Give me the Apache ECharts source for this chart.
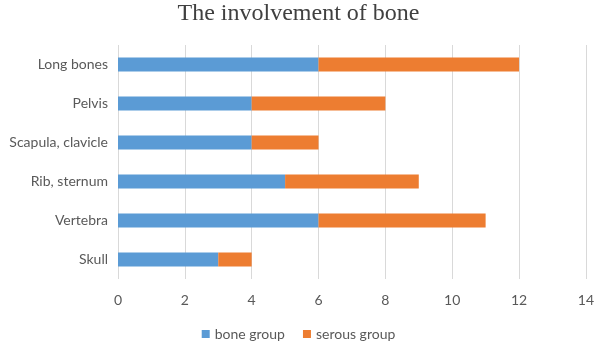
<!DOCTYPE html>
<html><head><meta charset="utf-8">
<script src="https://cdn.jsdelivr.net/npm/echarts@6/dist/echarts.min.js"></script>
<style>html,body{margin:0;padding:0;background:#fff}#c{width:597px;height:344px}</style>
</head><body><div id="c"></div>
<script>
const categories = ["Long bones", "Pelvis", "Scapula, clavicle", "Rib, sternum", "Vertebra", "Skull"];
const boneGroup = [6, 4, 4, 5, 6, 3];
const serousGroup = [6, 4, 2, 4, 5, 1];
const xTicks = [0, 2, 4, 6, 8, 10, 12, 14];

const chart = echarts.init(document.getElementById('c'), null, {renderer: 'canvas'});
const font = 'Lato, "Open Sans", sans-serif';
chart.setOption({
  animation: false,
  title: {text: 'The involvement of bone', left: 'center', top: -3,
    textStyle: {fontFamily: '"Liberation Serif", serif', fontWeight: 'normal', fontSize: 24, color: '#404040'}},
  legend: {bottom: -2, left: 'center', itemWidth: 8, itemHeight: 8, itemGap: 18, icon: 'rect',
    textStyle: {fontFamily: font, fontSize: 14, color: '#595959'}},
  grid: {left: 118, right: 5, top: 45, bottom: 65, containLabel: false},
  xAxis: {type: 'value', min: xTicks[0], max: xTicks[xTicks.length-1], interval: 2,
    axisLine: {show: false}, axisTick: {show: false},
    splitLine: {lineStyle: {color: '#d9d9d9'}},
    axisLabel: {fontFamily: font, fontSize: 14, color: '#595959', margin: 14}},
  yAxis: {type: 'category', data: categories, inverse: true,
    axisLine: {show: false}, axisTick: {show: false},
    axisLabel: {fontFamily: font, fontSize: 14, color: '#595959', margin: 10}},
  series: [
    {name: 'bone group', type: 'bar', stack: 'a', data: boneGroup, barWidth: 14, itemStyle: {color: '#5B9BD5'}},
    {name: 'serous group', type: 'bar', stack: 'a', data: serousGroup, barWidth: 14, itemStyle: {color: '#ED7D31'}}
  ]
});
</script></body></html>
